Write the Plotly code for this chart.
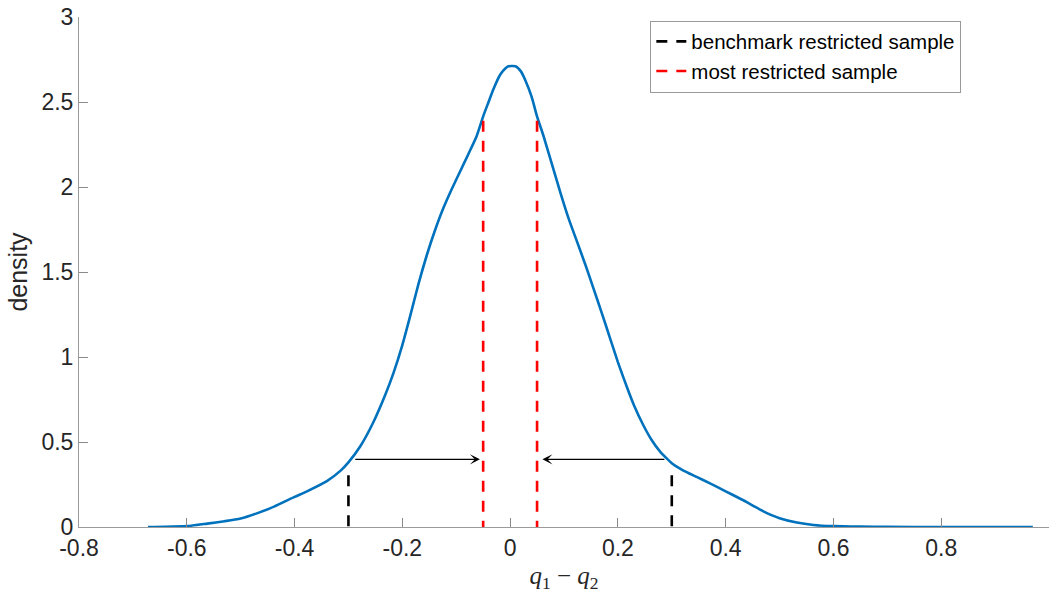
import plotly.graph_objects as go

# ---- data ----
density_x = [-0.672, -0.64, -0.6, -0.562, -0.53, -0.5, -0.47, -0.438, -0.4, -0.377,
             -0.34, -0.315, -0.3, -0.278, -0.254, -0.232, -0.2165, -0.2, -0.1855, -0.17,
             -0.1545, -0.14, -0.124, -0.108, -0.093, -0.078, -0.062, -0.0495, -0.04, -0.031,
             -0.0185, -0.008, -0.003, 0.01, 0.02, 0.028, 0.04, 0.0495, 0.062, 0.078,
             0.093, 0.108, 0.124, 0.14, 0.1545, 0.17, 0.1855, 0.2, 0.2165, 0.23,
             0.247, 0.262, 0.278, 0.29, 0.3, 0.32, 0.346, 0.37, 0.4, 0.42,
             0.44, 0.455, 0.47, 0.485, 0.5, 0.532, 0.563, 0.6, 0.65, 0.7,
             0.8, 0.97]
density_y = [0.0, 0.001, 0.005, 0.02, 0.034, 0.05, 0.08, 0.12, 0.177, 0.21,
             0.27, 0.33, 0.38, 0.475, 0.615, 0.775, 0.905, 1.07, 1.24, 1.43,
             1.60, 1.74, 1.875, 1.99, 2.09, 2.19, 2.3, 2.42, 2.5, 2.575,
             2.66, 2.7, 2.71, 2.71, 2.68, 2.63, 2.53, 2.42, 2.3, 2.13,
             1.97, 1.82, 1.68, 1.54, 1.405, 1.26, 1.11, 0.97, 0.825, 0.715,
             0.6, 0.515, 0.445, 0.405, 0.375, 0.335, 0.295, 0.258, 0.21, 0.178,
             0.145, 0.118, 0.092, 0.07, 0.052, 0.026, 0.012, 0.005, 0.002, 0.001,
             0.0, 0.0]

benchmark_x = [-0.3, 0.3]
benchmark_top = [0.304, 0.304]
most_x = [-0.05, 0.05]
most_top = [2.39, 2.39]

arrow_tail_x = [-0.29, 0.289]
arrow_head_x = [-0.056, 0.06]
arrow_y = [0.398, 0.398]

xtick_vals = [-0.8, -0.6, -0.4, -0.2, 0, 0.2, 0.4, 0.6, 0.8, 1]
xtick_text = ["-0.8", "-0.6", "-0.4", "-0.2", "0", "0.2", "0.4", "0.6", "0.8", "1"]
ytick_vals = [0, 0.5, 1, 1.5, 2, 2.5, 3]
ytick_text = ["0", "0.5", "1", "1.5", "2", "2.5", "3"]

series_names = ["benchmark restricted sample", "most restricted sample"]


def vsegments(xs, tops):
    X, Y = [], []
    for x, t in zip(xs, tops):
        X += [x, x, None]
        Y += [t, 0, None]
    return X, Y


SANS = "Liberation Sans, Arial, Helvetica, sans-serif"
AX_COLOR = "#262626"

fig = go.Figure()

fig.add_trace(go.Scatter(x=density_x, y=density_y, mode="lines",
                         line=dict(color="#0072BD", width=2.6, shape="spline", smoothing=0.6),
                         showlegend=False, hoverinfo="skip"))

bx, by = vsegments(benchmark_x, benchmark_top)
fig.add_trace(go.Scatter(x=bx, y=by, mode="lines", name=series_names[0],
                         line=dict(color="black", width=2.6, dash="11px,9px")))

mx, my = vsegments(most_x, most_top)
fig.add_trace(go.Scatter(x=mx, y=my, mode="lines", name=series_names[1],
                         line=dict(color="#FF0000", width=2.6, dash="11px,9px")))

for tx, hx, yy in zip(arrow_tail_x, arrow_head_x, arrow_y):
    fig.add_annotation(x=hx, y=yy, ax=tx, ay=yy, xref="x", yref="y",
                       axref="x", ayref="y", text="", showarrow=True,
                       arrowhead=3, arrowsize=1.4, arrowwidth=1.2,
                       arrowcolor="black", standoff=0, startstandoff=0)

fig.update_layout(
    width=1053, height=602,
    margin=dict(l=79, r=4, t=14, b=75),
    paper_bgcolor="white", plot_bgcolor="white",
    font=dict(family=SANS, size=23, color=AX_COLOR),
    legend=dict(x=0.589, y=0.993, xanchor="left", yanchor="top",
                bgcolor="white", bordercolor="#999999", borderwidth=1,
                font=dict(family=SANS, size=20.5, color="black"),
                itemwidth=30, tracegroupgap=0),
    xaxis=dict(range=[-0.8, 1], tickvals=xtick_vals, ticktext=xtick_text,
               showgrid=False, zeroline=False, showline=True,
               linecolor="#9a9a9a", linewidth=1, ticks="inside", ticklen=9,
               tickcolor="#8a8a8a", tickfont=dict(size=23, color=AX_COLOR),
               title=dict(text="<i>q</i><sub>1</sub> \u2212 <i>q</i><sub>2</sub>",
                          font=dict(family="Liberation Serif, Times New Roman, serif",
                                    size=25, color=AX_COLOR),
                          standoff=6)),
    yaxis=dict(range=[0, 3], tickvals=ytick_vals, ticktext=ytick_text,
               showgrid=False, zeroline=False, showline=True,
               linecolor="#9a9a9a", linewidth=1, ticks="inside", ticklen=9,
               tickcolor="#8a8a8a", tickfont=dict(size=23, color=AX_COLOR),
               title=dict(text="density", font=dict(family=SANS, size=25, color=AX_COLOR),
                          standoff=6)),
)

fig.write_html("out.html")
